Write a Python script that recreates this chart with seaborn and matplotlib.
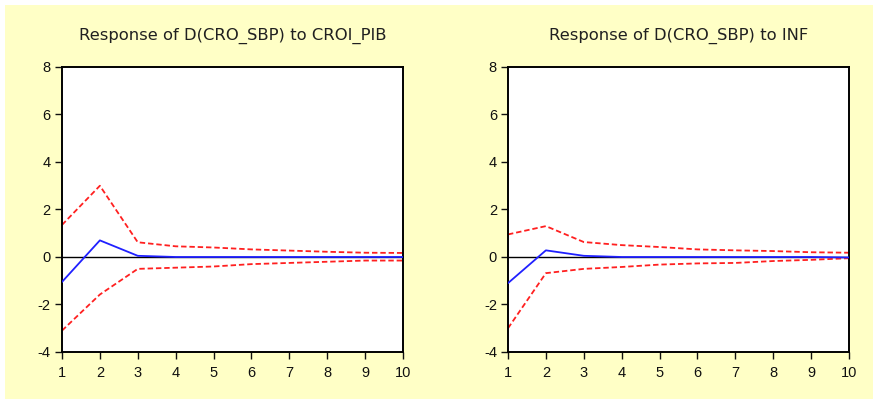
import matplotlib
matplotlib.use("Agg")
import matplotlib.pyplot as plt
import seaborn as sns
from matplotlib.patches import Rectangle

# ============ DADOS ============
periods = [1, 2, 3, 4, 5, 6, 7, 8, 9, 10]

titles = ["Response of D(CRO_SBP) to CROI_PIB", "Response of D(CRO_SBP) to INF"]

# resposta a CROI_PIB
pib_resp = [-1.05, 0.70, 0.05, 0.0, 0.0, 0.0, 0.0, 0.0, 0.0, 0.0]
pib_upper = [1.35, 3.00, 0.62, 0.45, 0.40, 0.32, 0.27, 0.22, 0.18, 0.17]
pib_lower = [-3.10, -1.58, -0.50, -0.45, -0.40, -0.30, -0.25, -0.20, -0.15, -0.15]

# resposta a INF
inf_resp = [-1.10, 0.28, 0.05, 0.0, 0.0, 0.0, 0.0, 0.0, 0.0, -0.02]
inf_upper = [0.95, 1.30, 0.63, 0.50, 0.42, 0.32, 0.28, 0.25, 0.20, 0.18]
inf_lower = [-3.00, -0.68, -0.50, -0.42, -0.32, -0.27, -0.25, -0.17, -0.12, -0.05]

y_ticks = [-4, -2, 0, 2, 4, 6, 8]

# ============ FIGURA ============
sns.set_style("ticks")
plt.rcParams['font.family'] = ['Liberation Sans', 'DejaVu Sans']
plt.rcParams['axes.unicode_minus'] = False

fig = plt.figure(figsize=(8.73, 3.99), dpi=100, facecolor='white')
# fundo amarelo (com margem branca em cima e à esquerda)
fig.patches.append(Rectangle((5 / 873, 0), 1, (399 - 5) / 399, transform=fig.transFigure,
                             facecolor='#FFFFC6', edgecolor='none', zorder=-10))

panels = [
    (0.0710, pib_resp, pib_upper, pib_lower),
    (0.5819, inf_resp, inf_upper, inf_lower),
]

for (left, resp, upper, lower), title in zip(panels, titles):
    ax = fig.add_axes([left, 0.1178, 0.3906, 0.7143])
    ax.set_facecolor('white')
    ax.axhline(0, color='black', linewidth=1.0, zorder=1)
    sns.lineplot(x=periods, y=upper, ax=ax, color='#FF2020', linewidth=1.3,
                 linestyle=(0, (3, 1.6)), zorder=2)
    sns.lineplot(x=periods, y=lower, ax=ax, color='#FF2020', linewidth=1.3,
                 linestyle=(0, (3, 1.6)), zorder=2)
    sns.lineplot(x=periods, y=resp, ax=ax, color='#2020FF', linewidth=1.3, zorder=3)

    ax.set_xlim(1, 10)
    ax.set_ylim(-4, 8)
    ax.set_xticks(periods)
    ax.set_yticks(y_ticks)
    ax.tick_params(axis='both', direction='out', length=5, width=1.0, labelsize=10.5,
                   colors='#101010')
    ax.tick_params(axis='x', pad=5)
    ax.tick_params(axis='y', pad=3)
    for sp in ax.spines.values():
        sp.set_visible(True)
        sp.set_linewidth(1.4)
        sp.set_color('black')
    ax.set_xlabel('')
    ax.set_ylabel('')
    ax.text(0.5, 1.11, title, transform=ax.transAxes, ha='center', va='center',
            fontsize=11.8, color='#202020', family=['DejaVu Sans'])

fig.savefig('out.png', dpi=100, facecolor=fig.get_facecolor())
